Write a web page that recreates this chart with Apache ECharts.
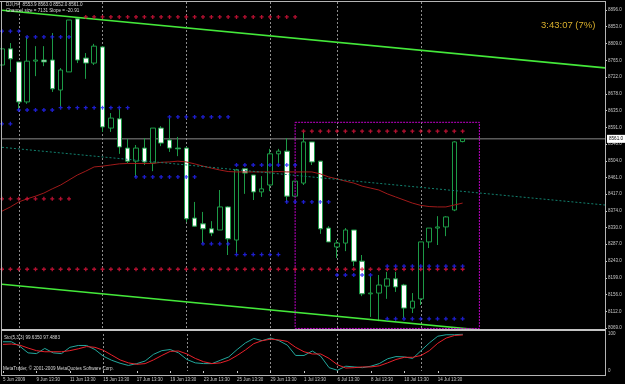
<!DOCTYPE html>
<html>
<head>
<meta charset="utf-8">
<script src="https://cdn.jsdelivr.net/npm/echarts@6/dist/echarts.min.js"></script>
<style>
html, body { margin: 0; padding: 0; background: #000; }
#chart { width: 625px; height: 384px; }
</style>
</head>
<body>
<div id="chart"></div>
<script>
// DJI H4, two bars a day (13:30 and 17:30)
const days = ['5 Jun', '8 Jun', '9 Jun', '10 Jun', '11 Jun', '12 Jun', '15 Jun', '16 Jun', '17 Jun', '18 Jun',
    '19 Jun', '22 Jun', '23 Jun', '24 Jun', '25 Jun', '26 Jun', '29 Jun', '30 Jun', '1 Jul', '2 Jul',
    '6 Jul', '7 Jul', '8 Jul', '9 Jul', '10 Jul', '13 Jul', '14 Jul', '15 Jul'];
const sessions = ['13:30', '17:30'];
const shiftBars = 17; // empty space right of the last bar

const opens = [8753, 8795, 8761, 8657, 8763, 8766, 8766, 8688, 8735, 8873, 8771, 8758, 8800, 8589, 8613, 8537,
    8503, 8537, 8498, 8589, 8558, 8537, 8537, 8355, 8340, 8327, 8324, 8384, 8298, 8483, 8467, 8423, 8441, 8522,
    8529, 8412, 8446, 8553, 8503, 8329, 8280, 8290, 8324, 8243, 8158, 8160, 8178, 8197, 8181, 8121, 8145, 8293,
    8329, 8332, 8376, 8553.9];
const highs = [8836, 8810, 8761, 8826, 8802, 8802, 8836, 8745, 8870, 8875, 8784, 8808, 8802, 8628, 8639, 8561,
    8545, 8563, 8589, 8594, 8615, 8566, 8540, 8397, 8371, 8347, 8428, 8386, 8483, 8485, 8467, 8464, 8535, 8535,
    8563, 8451, 8579, 8553, 8503, 8334, 8298, 8329, 8324, 8259, 8204, 8207, 8215, 8215, 8184, 8160, 8293, 8329,
    8360, 8360, 8555, 8563];
const lows = [8704, 8735, 8636, 8652, 8724, 8750, 8683, 8644, 8735, 8758, 8717, 8753, 8579, 8579, 8522, 8498,
    8462, 8493, 8477, 8542, 8527, 8516, 8345, 8332, 8290, 8308, 8324, 8259, 8264, 8418, 8402, 8410, 8425, 8498,
    8397, 8410, 8441, 8493, 8314, 8293, 8251, 8269, 8230, 8152, 8098, 8087, 8145, 8163, 8095, 8108, 8129, 8277,
    8285, 8308, 8373, 8552];
const closes = [8795, 8769, 8657, 8763, 8766, 8761, 8691, 8740, 8870, 8766, 8758, 8802, 8592, 8615, 8540, 8503,
    8537, 8501, 8589, 8550, 8537, 8535, 8353, 8334, 8327, 8316, 8384, 8301, 8480, 8472, 8423, 8431, 8522, 8529,
    8412, 8451, 8553, 8501, 8327, 8293, 8290, 8324, 8243, 8158, 8160, 8181, 8197, 8176, 8121, 8139, 8293, 8329,
    8332, 8358, 8553, 8561];

// moving average (dark red)
const maValues = [8373, 8384, 8397, 8405, 8412, 8420, 8431, 8441, 8454, 8467, 8477, 8488, 8490, 8493, 8496, 8497,
    8497, 8497, 8497, 8500, 8501, 8503, 8501, 8496, 8490, 8485, 8480, 8476, 8475, 8475, 8475, 8475, 8475, 8476,
    8475, 8475, 8475, 8475, 8470, 8462, 8457, 8451, 8446, 8438, 8433, 8428, 8418, 8410, 8402, 8394, 8388, 8385,
    8384, 8384, 8389, 8394];

// regression channel, ends at bar 0 and bar 72
const channelBars = [0, 72];
const channelUpper = [8895.5, 8745.5];
const channelMid = [8539, 8389];
const channelLower = [8183, 8033];

// dotted levels: first bar, last bar, price
const redStart = [10, 0, 0, 36];
const redEnd = [35, 8, 55, 55];
const redPrice = [8878, 8405, 8222, 8581];
const blueStart = [0, 3, 2, 7, 0, 16, 20, 24, 28, 28, 34, 40, 46, 46];
const blueEnd = [2, 8, 6, 15, 1, 23, 27, 27, 35, 33, 39, 44, 55, 55];
const bluePrice = [8841, 8826, 8636, 8642, 8600, 8462, 8618, 8288, 8493, 8260, 8397, 8207, 8230, 8093];

// magenta box
const boxBars = [35.1, 57.2];
const boxPrices = [8604, 8068];

const bidPrice = 8561;

// Stochastic(5,3,3)
const stochK = [79, 79, 67, 49, 47, 61, 49, 47, 64, 69, 69, 58, 40, 29, 21, 15, 20, 27, 45, 55, 58, 49, 31, 22,
    20, 20, 29, 38, 58, 76, 88, 82, 89, 82, 70, 42, 42, 54, 40, 9, 2, 13, 11, 9, 13, 20, 33, 39, 38, 34, 55, 76,
    94, 98, 98, 99.6];
const stochD = [72, 73, 70, 62, 55, 52, 52, 52, 55, 60, 66, 64, 56, 43, 30, 22, 18, 20, 30, 42, 53, 54, 46, 34,
    25, 20, 22, 29, 42, 57, 74, 82, 86, 84, 80, 64, 52, 46, 46, 34, 17, 8, 9, 11, 11, 14, 22, 31, 37, 37, 42, 55,
    75, 89, 96, 97.5];

const priceTicks = [8896, 8853, 8809, 8765, 8722, 8678, 8635, 8591, 8548, 8504, 8461, 8417, 8374, 8330, 8287,
    8243, 8199, 8156, 8112, 8069];
const timeLabels = ['5 Jun 2009', '9 Jun 13:30', '11 Jun 13:30', '15 Jun 13:30', '17 Jun 13:30', '19 Jun 13:30',
    '23 Jun 13:30', '25 Jun 13:30', '29 Jun 13:30', '1 Jul 13:30', '6 Jul 13:30', '8 Jul 13:30', '10 Jul 13:30',
    '14 Jul 13:30'];
const weekStarts = [2, 12, 22, 32, 40, 50];

const categories = [];
days.forEach(d => sessions.forEach(s => categories.push(d + ' ' + s)));
for (let i = 0; i < shiftBars; i++) categories.push('shift ' + i);

const candles = opens.map((o, i) => [o, closes[i], lows[i], highs[i]]);

function levelPoints(starts, ends, prices) {
    const pts = [];
    starts.forEach((s, k) => {
        for (let i = s; i <= ends[k]; i++) pts.push([i, prices[k]]);
    });
    return pts;
}

const plus = 'path://M1,0H2V1H3V2H2V3H1V2H0V1H1Z';
const labelColor = '#c8c8c8';
const frameColor = '#b4b4b4';
const tinyFont = 'Liberation Sans';

const isLabelBar = i => i % 4 === 0 && i < opens.length;
const isWeekStart = i => weekStarts.includes(i);

const chart = echarts.init(document.getElementById('chart'));

const option = {
    backgroundColor: '#000000',
    animation: false,
    grid: [
        { left: 2, top: 2, width: 603, height: 327 },
        { left: 2, top: 334, width: 603, height: 37 }
    ],
    xAxis: [
        {
            type: 'category', gridIndex: 0, data: categories, boundaryGap: false,
            axisLine: { show: false }, axisTick: { show: false }, axisLabel: { show: false },
            splitLine: { show: true, interval: isWeekStart, lineStyle: { color: '#8c8c8c', type: [2, 2], width: 1 } }
        },
        {
            type: 'category', gridIndex: 1, data: categories, boundaryGap: false, offset: 4,
            axisLine: { show: false },
            axisTick: { show: true, interval: isLabelBar, length: 2, lineStyle: { color: labelColor } },
            axisLabel: {
                show: true, interval: isLabelBar, formatter: (v, i) => timeLabels[i / 4] || '',
                align: 'left', margin: 2, fontSize: 4.5, color: labelColor, fontFamily: tinyFont
            },
            splitLine: { show: true, interval: isWeekStart, lineStyle: { color: '#8c8c8c', type: [2, 2], width: 1 } }
        }
    ],
    yAxis: [
        {
            type: 'value', gridIndex: 0, position: 'right', min: 8066.6, max: 8916.8,
            axisLine: { show: false },
            axisTick: { show: true, customValues: priceTicks, length: 2, lineStyle: { color: labelColor } },
            axisLabel: {
                show: true, customValues: priceTicks, formatter: v => v.toFixed(1),
                margin: 3, fontSize: 4.5, color: labelColor, fontFamily: tinyFont
            },
            splitLine: { show: false }
        },
        {
            type: 'value', gridIndex: 1, position: 'right', min: 0, max: 100,
            axisLine: { show: false },
            axisTick: { show: false },
            axisLabel: {
                show: true, customValues: [0, 100], margin: 3, fontSize: 4.5,
                color: labelColor, fontFamily: tinyFont
            },
            splitLine: { show: false }
        }
    ],
    series: [
        {
            type: 'line', data: [[channelBars[0], bidPrice], [channelBars[1], bidPrice]],
            symbol: 'none', lineStyle: { color: '#8a8a8a', width: 1 }, z: 1
        },
        {
            type: 'candlestick', data: candles, barWidth: 5, z: 2,
            itemStyle: { color: '#000000', color0: '#ffffff', borderColor: '#1c9a46', borderColor0: '#1c9a46', borderWidth: 1 }
        },
        {
            type: 'line', data: maValues, symbol: 'none', z: 3,
            lineStyle: { color: '#a01a1a', width: 1 }
        },
        {
            type: 'line', data: channelBars.map((b, i) => [b, channelMid[i]]), symbol: 'none', z: 3,
            lineStyle: { color: '#12806e', width: 1, type: [2, 2] }
        },
        {
            type: 'line', data: channelBars.map((b, i) => [b, channelUpper[i]]), symbol: 'none', z: 3,
            lineStyle: { color: '#44e83a', width: 1.6 }
        },
        {
            type: 'line', data: channelBars.map((b, i) => [b, channelLower[i]]), symbol: 'none', z: 3,
            lineStyle: { color: '#44e83a', width: 1.6 }
        },
        {
            type: 'line', symbol: 'none', z: 4,
            data: [[boxBars[0], boxPrices[0]], [boxBars[1], boxPrices[0]], [boxBars[1], boxPrices[1]],
                [boxBars[0], boxPrices[1]], [boxBars[0], boxPrices[0]]],
            lineStyle: { color: '#c000c8', width: 1, type: [2, 1] }
        },
        {
            type: 'scatter', data: levelPoints(redStart, redEnd, redPrice), symbol: plus, symbolSize: 4, z: 5,
            itemStyle: { color: '#e0143c' }
        },
        {
            type: 'scatter', data: levelPoints(blueStart, blueEnd, bluePrice), symbol: plus, symbolSize: 4, z: 5,
            itemStyle: { color: '#2424ff' }
        },
        {
            type: 'line', xAxisIndex: 1, yAxisIndex: 1, data: stochK, symbol: 'none',
            lineStyle: { color: '#22a79c', width: 1 }
        },
        {
            type: 'line', xAxisIndex: 1, yAxisIndex: 1, data: stochD, symbol: 'none',
            lineStyle: { color: '#e8202a', width: 1 }
        }
    ]
};
chart.setOption(option);

const bidY = chart.convertToPixel({ xAxisIndex: 0, yAxisIndex: 0 }, [0, bidPrice])[1];

chart.setOption({
    graphic: [
        { type: 'rect', z: 100, shape: { x: 0, y: 1, width: 606, height: 1 }, style: { fill: frameColor } },
        { type: 'rect', z: 100, shape: { x: 1, y: 1, width: 1, height: 375 }, style: { fill: frameColor } },
        { type: 'rect', z: 100, shape: { x: 605, y: 1, width: 1, height: 375 }, style: { fill: frameColor } },
        { type: 'rect', z: 100, shape: { x: 1, y: 329, width: 605, height: 2 }, style: { fill: '#c4c4c4' } },
        { type: 'rect', z: 100, shape: { x: 1, y: 375, width: 605, height: 1 }, style: { fill: frameColor } },
        {
            type: 'text', z: 100, left: 6, top: 2.5,
            style: { text: 'DJI,H4  8553.9 8563.0 8552.0 8561.0', fill: '#d8d8d8', font: '4.6px ' + tinyFont }
        },
        {
            type: 'text', z: 100, left: 6, top: 8.5,
            style: { text: 'Channel size = 7131 Slope = -20.91', fill: '#d8d8d8', font: '4.6px ' + tinyFont }
        },
        {
            type: 'text', z: 100, left: 541, top: 20,
            style: { text: '3:43:07 (7%)', fill: '#d8ae2c', font: '9.5px ' + tinyFont }
        },
        {
            type: 'text', z: 100, left: 4, top: 335,
            style: { text: 'Sto(5,3,3) 99.6350 97.4883', fill: '#d8d8d8', font: '4.6px ' + tinyFont }
        },
        {
            type: 'text', z: 100, left: 3, top: 366,
            style: { text: 'MetaTrader, \u00a9 2001-2009 MetaQuotes Software Corp.', fill: '#d8d8d8', font: '4.6px ' + tinyFont }
        },
        { type: 'rect', z: 100, shape: { x: 607, y: bidY - 4, width: 18, height: 8 }, style: { fill: '#ffffff' } },
        {
            type: 'text', z: 101, left: 609, top: bidY - 3,
            style: { text: bidPrice.toFixed(1), fill: '#000000', font: '4.6px ' + tinyFont }
        }
    ]
});
</script>
</body>
</html>
